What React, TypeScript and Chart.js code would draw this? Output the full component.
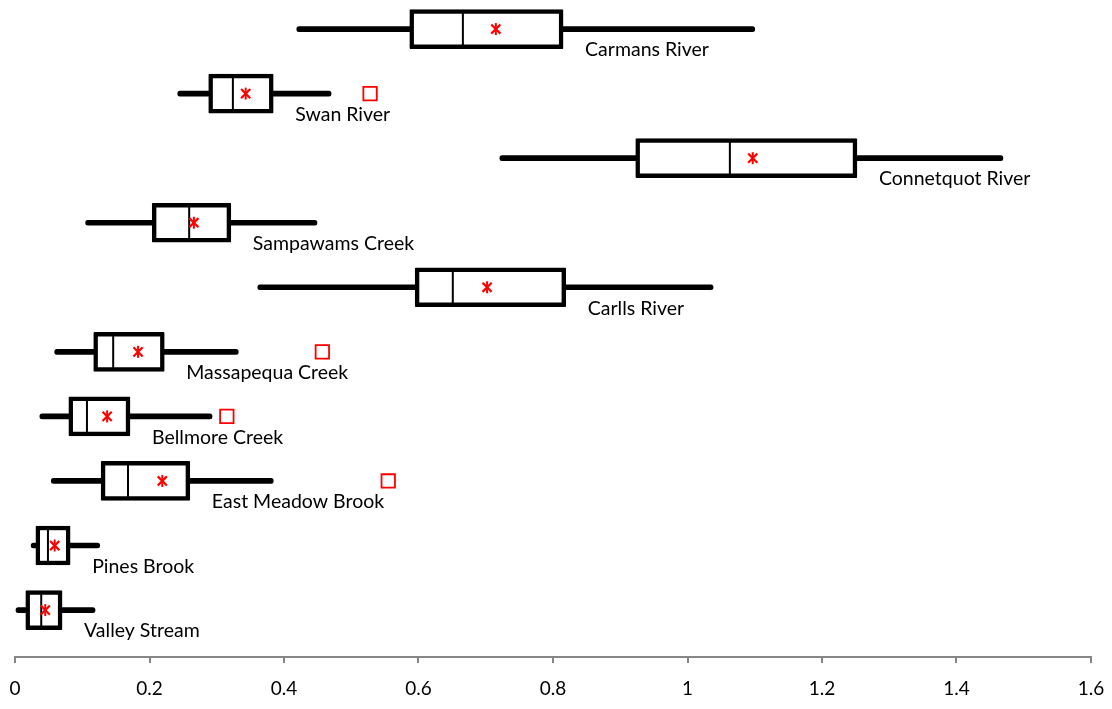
import React, { useEffect, useRef } from 'react';
import { Chart, registerables } from 'chart.js';

Chart.register(...registerables);

const categories = [
  'Carmans River',
  'Swan River',
  'Connetquot River',
  'Sampawams Creek',
  'Carlls River',
  'Massapequa Creek',
  'Bellmore Creek',
  'East Meadow Brook',
  'Pines Brook',
  'Valley Stream',
];
const whiskerLow = [0.419, 0.242, 0.721, 0.105, 0.361, 0.059, 0.037, 0.054, 0.024, 0.0];
const q1 = [0.587, 0.288, 0.923, 0.204, 0.595, 0.117, 0.08, 0.128, 0.031, 0.016];
const median = [0.666, 0.324, 1.063, 0.259, 0.651, 0.146, 0.107, 0.168, 0.049, 0.039];
const mean = [0.715, 0.343, 1.097, 0.266, 0.702, 0.183, 0.137, 0.219, 0.059, 0.045];
const q3 = [0.815, 0.384, 1.252, 0.321, 0.819, 0.222, 0.171, 0.26, 0.082, 0.07];
const whiskerHigh = [1.1, 0.47, 1.469, 0.449, 1.038, 0.332, 0.293, 0.384, 0.126, 0.119];
const outlierCategory = ['Swan River', 'Massapequa Creek', 'Bellmore Creek', 'East Meadow Brook'];
const outlierValue = [0.528, 0.457, 0.315, 0.555];
const xTicks = [0, 0.2, 0.4, 0.6, 0.8, 1, 1.2, 1.4, 1.6];

const FONT = 'Lato, "Open Sans", sans-serif';

const labelPlugin = {
  id: 'boxLabels',
  afterDatasetsDraw(chart: any) {
    const ctx = chart.ctx;
    const xs = chart.scales.x;
    const ys = chart.scales.y;
    ctx.save();
    ctx.font = `19.5px ${FONT}`;
    ctx.fillStyle = '#000';
    ctx.textBaseline = 'middle';
    ctx.textAlign = 'left';
    categories.forEach((c, i) => {
      const x = xs.getPixelForValue(q3[i]) + 22;
      const y = ys.getPixelForValue(i) + 21;
      ctx.fillText(c, x, y);
    });
    ctx.restore();
  },
};

export default function App() {
  const ref = useRef<HTMLCanvasElement>(null);
  useEffect(() => {
    if (!ref.current) return;
    const idx = (c: string) => categories.indexOf(c);
    const chart = new Chart(ref.current, {
      type: 'bar',
      data: {
        datasets: [
          {
            type: 'bar',
            label: 'whisker',
            indexAxis: 'y',
            grouped: false,
            order: 5,
            data: categories.map((c, i) => ({ y: i, x: [whiskerLow[i], whiskerHigh[i]] })),
            backgroundColor: '#000',
            borderWidth: 0,
            borderRadius: 2.5,
            borderSkipped: false,
            barThickness: 5,
          } as any,
          {
            type: 'bar',
            label: 'box',
            indexAxis: 'y',
            grouped: false,
            order: 4,
            data: categories.map((c, i) => ({ y: i, x: [q1[i], q3[i]] })),
            backgroundColor: '#fff',
            borderColor: '#000',
            borderWidth: 4.5,
            borderRadius: 1,
            borderSkipped: false,
            barThickness: 39,
          } as any,
          {
            type: 'scatter',
            label: 'median',
            order: 3,
            data: categories.map((c, i) => ({ x: median[i], y: i })),
            pointStyle: 'line',
            rotation: 90,
            radius: 18,
            borderColor: '#000',
            borderWidth: 2,
          } as any,
          {
            type: 'scatter',
            label: 'mean',
            order: 2,
            data: categories.map((c, i) => ({ x: mean[i], y: i })),
            pointStyle: 'crossRot',
            radius: 6.5,
            borderColor: '#ff0000',
            borderWidth: 2.2,
          } as any,
          {
            type: 'scatter',
            label: 'mean2',
            order: 2,
            data: categories.map((c, i) => ({ x: mean[i], y: i })),
            pointStyle: 'line',
            rotation: 90,
            radius: 6,
            borderColor: '#ff0000',
            borderWidth: 2,
          } as any,
          {
            type: 'scatter',
            label: 'outlier',
            order: 1,
            data: outlierCategory.map((c, k) => ({ x: outlierValue[k], y: idx(c) })),
            pointStyle: 'rect',
            radius: 9.5,
            backgroundColor: 'rgba(255,255,255,0)',
            borderColor: '#ff0000',
            borderWidth: 1.8,
          } as any,
        ],
      },
      options: {
        indexAxis: 'y',
        animation: false,
        responsive: false,
        maintainAspectRatio: false,
        layout: { autoPadding: false, padding: { left: 15, right: 21, top: 0, bottom: 0 } },
        plugins: {
          legend: { display: false },
          tooltip: { enabled: false },
        },
        scales: {
          x: {
            type: 'linear',
            min: 0,
            max: 1.6,
            offset: false,
            afterBuildTicks: (s: any) => {
              s.ticks = xTicks.map((v) => ({ value: v }));
            },
            afterFit: (s: any) => {
              s.height = 52;
              s.paddingLeft = 0;
              s.paddingRight = 0;
            },
            grid: {
              offset: false,
              drawOnChartArea: false,
              drawTicks: true,
              tickLength: 6,
              color: '#868686',
              lineWidth: 2,
            },
            border: { display: true, color: '#868686', width: 2 },
            ticks: {
              color: '#000',
              font: { family: FONT, size: 19 },
              padding: 14,
              maxRotation: 0,
              autoSkip: false,
              callback: (v: any) => String(Number(v)),
            },
          },
          y: {
            type: 'linear',
            reverse: true,
            min: -0.45,
            max: 9.727,
            offset: false,
            grid: { offset: false },
            display: false,
          },
        },
      } as any,
      plugins: [labelPlugin],
    });
    return () => chart.destroy();
  }, []);
  return (
    <div style={{ position: 'fixed', left: 0, top: 0, width: 1112, height: 709, background: '#fff' }}>
      <canvas ref={ref} width={1112} height={709} style={{ display: 'block' }} />
    </div>
  );
}
